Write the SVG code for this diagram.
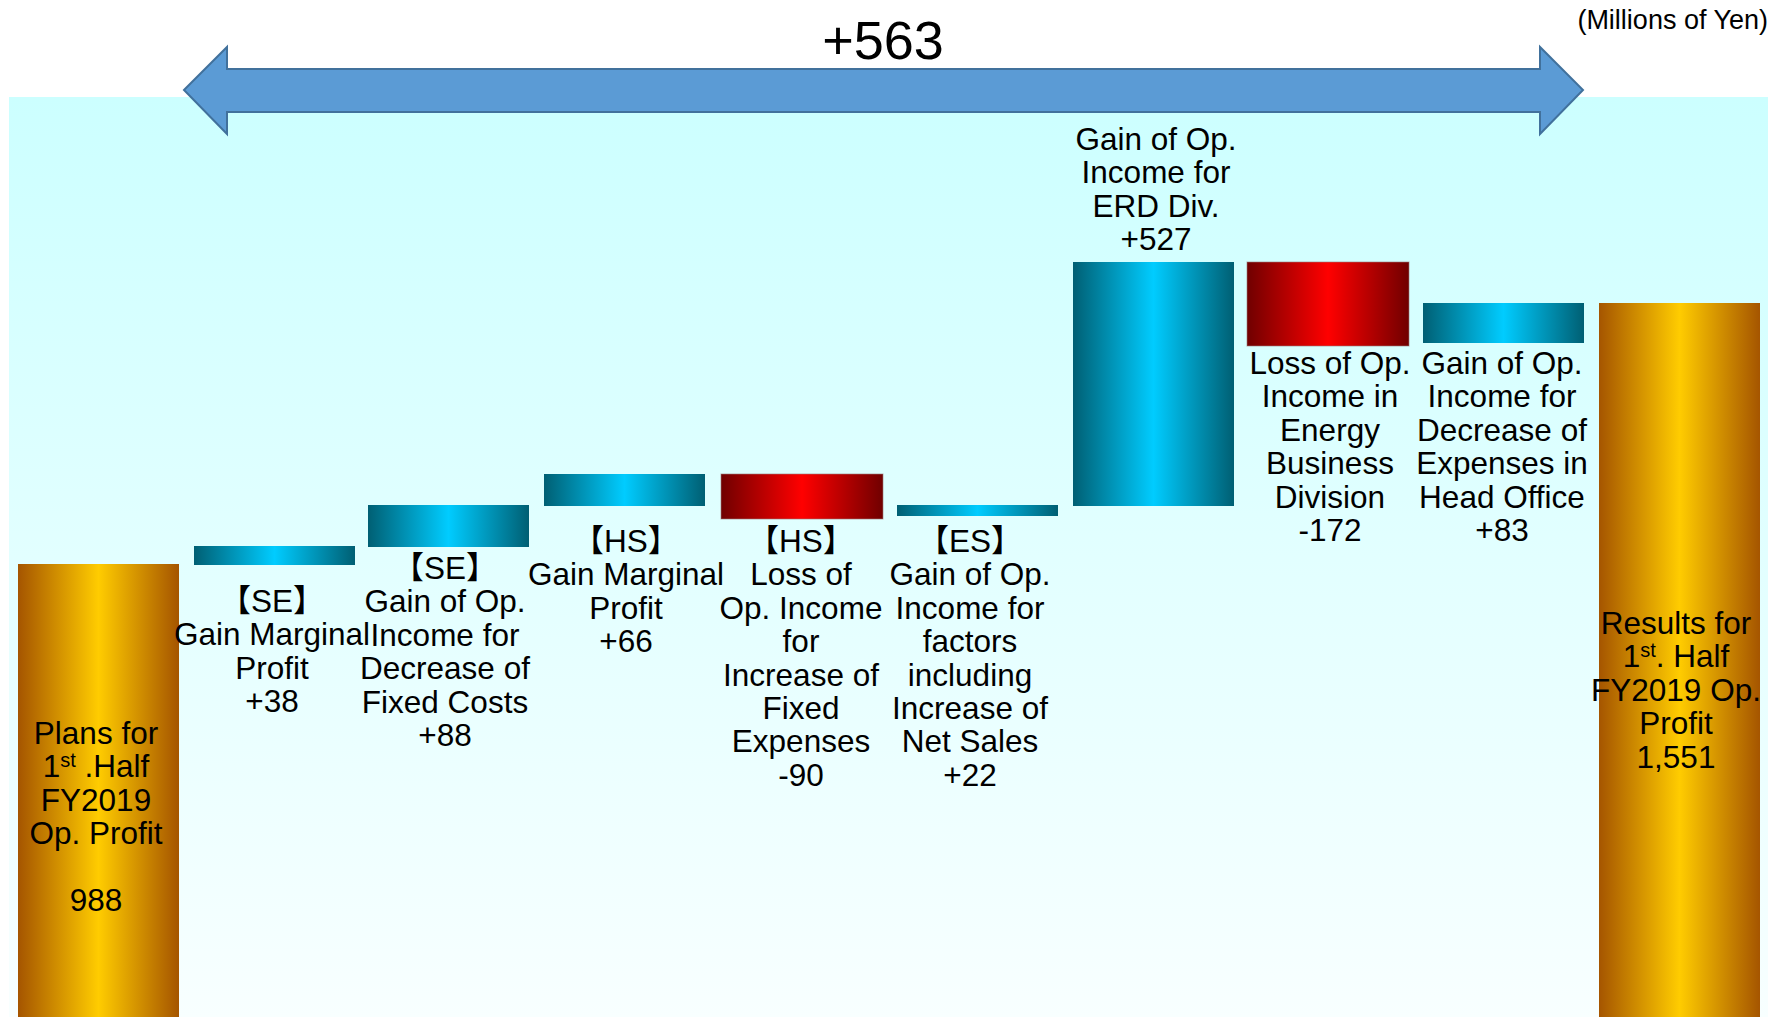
<svg xmlns="http://www.w3.org/2000/svg" width="1783" height="1017" viewBox="0 0 1783 1017">
<defs>
<linearGradient id="bg" x1="0" y1="0" x2="0" y2="1"><stop offset="0" stop-color="#ccffff"/><stop offset="1" stop-color="#f8ffff"/></linearGradient>
<linearGradient id="gold" x1="0" y1="0" x2="1" y2="0"><stop offset="0" stop-color="#a55500"/><stop offset="0.5" stop-color="#ffcc00"/><stop offset="1" stop-color="#a55500"/></linearGradient>
<linearGradient id="blue" x1="0" y1="0" x2="1" y2="0"><stop offset="0" stop-color="#005f73"/><stop offset="0.5" stop-color="#00ccff"/><stop offset="1" stop-color="#005f73"/></linearGradient>
<linearGradient id="red" x1="0" y1="0" x2="1" y2="0"><stop offset="0" stop-color="#700000"/><stop offset="0.5" stop-color="#ff0000"/><stop offset="1" stop-color="#700000"/></linearGradient>
</defs>
<style>
text{font-family:"Liberation Sans","Noto Sans CJK JP",sans-serif;fill:#000;text-anchor:middle}
.lbl{font-size:31.5px}
.sup{font-size:20px}
.red{stroke:#9a7a7a;stroke-opacity:0.6;stroke-width:1}
</style>
<rect x="9" y="97" width="1759" height="920" fill="url(#bg)"/>
<text x="1768" y="29" font-size="27" style="text-anchor:end">(Millions of Yen)</text>
<text x="883" y="59" font-size="54">+563</text>
<g id="connectors">
<path d="M184,90 L227,47 L227,69 L1540,69 L1540,47 L1583,90 L1540,134 L1540,112 L227,112 L227,134 Z" fill="#5b9bd5" stroke="#41719c" stroke-width="2" stroke-linejoin="miter"/>
</g>
<g id="plan">
<rect x="18" y="564" width="161" height="453" fill="url(#gold)"/>
<text class="lbl"><tspan x="96" y="744">Plans for</tspan><tspan x="96" y="777.4">1<tspan class="sup" dy="-10">st</tspan><tspan dy="10"> .Half</tspan></tspan><tspan x="96" y="810.8">FY2019</tspan><tspan x="96" y="844.2">Op. Profit</tspan><tspan x="96" y="911">988</tspan></text>
</g>
<g id="se-marginal">
<rect x="194" y="546" width="161" height="19" fill="url(#blue)"/>
<text class="lbl"><tspan x="272" y="612">【SE】</tspan><tspan x="272" dy="33.4">Gain Marginal</tspan><tspan x="272" dy="33.4">Profit</tspan><tspan x="272" dy="33.4">+38</tspan></text>
</g>
<g id="se-fixed">
<rect x="368" y="505" width="161" height="42" fill="url(#blue)"/>
<text class="lbl"><tspan x="445" y="579">【SE】</tspan><tspan x="445" dy="33.4">Gain of Op.</tspan><tspan x="445" dy="33.4">Income for</tspan><tspan x="445" dy="33.4">Decrease of</tspan><tspan x="445" dy="33.4">Fixed Costs</tspan><tspan x="445" dy="33.4">+88</tspan></text>
</g>
<g id="hs-marginal">
<rect x="544" y="474" width="161" height="32" fill="url(#blue)"/>
<text class="lbl"><tspan x="626" y="552">【HS】</tspan><tspan x="626" dy="33.4">Gain Marginal</tspan><tspan x="626" dy="33.4">Profit</tspan><tspan x="626" dy="33.4">+66</tspan></text>
</g>
<g id="hs-fixed">
<rect class="red" x="721" y="474" width="162" height="45" fill="url(#red)"/>
<text class="lbl"><tspan x="801" y="552">【HS】</tspan><tspan x="801" dy="33.4">Loss of</tspan><tspan x="801" dy="33.4">Op. Income</tspan><tspan x="801" dy="33.4">for</tspan><tspan x="801" dy="33.4">Increase of</tspan><tspan x="801" dy="33.4">Fixed</tspan><tspan x="801" dy="33.4">Expenses</tspan><tspan x="801" dy="33.4">-90</tspan></text>
</g>
<g id="es-sales">
<rect x="897" y="505" width="161" height="11" fill="url(#blue)"/>
<text class="lbl"><tspan x="970" y="552">【ES】</tspan><tspan x="970" dy="33.4">Gain of Op.</tspan><tspan x="970" dy="33.4">Income for</tspan><tspan x="970" dy="33.4">factors</tspan><tspan x="970" dy="33.4">including</tspan><tspan x="970" dy="33.4">Increase of</tspan><tspan x="970" dy="33.4">Net Sales</tspan><tspan x="970" dy="33.4">+22</tspan></text>
</g>
<g id="erd">
<rect x="1073" y="262" width="161" height="244" fill="url(#blue)"/>
<text class="lbl"><tspan x="1156" y="150">Gain of Op.</tspan><tspan x="1156" dy="33.4">Income for</tspan><tspan x="1156" dy="33.4">ERD Div.</tspan><tspan x="1156" dy="33.4">+527</tspan></text>
</g>
<g id="energy">
<rect class="red" x="1247" y="262" width="162" height="84" fill="url(#red)"/>
<text class="lbl"><tspan x="1330" y="374">Loss of Op.</tspan><tspan x="1330" dy="33.4">Income in</tspan><tspan x="1330" dy="33.4">Energy</tspan><tspan x="1330" dy="33.4">Business</tspan><tspan x="1330" dy="33.4">Division</tspan><tspan x="1330" dy="33.4">-172</tspan></text>
</g>
<g id="head-office">
<rect x="1423" y="303" width="161" height="40" fill="url(#blue)"/>
<text class="lbl"><tspan x="1502" y="374">Gain of Op.</tspan><tspan x="1502" dy="33.4">Income for</tspan><tspan x="1502" dy="33.4">Decrease of</tspan><tspan x="1502" dy="33.4">Expenses in</tspan><tspan x="1502" dy="33.4">Head Office</tspan><tspan x="1502" dy="33.4">+83</tspan></text>
</g>
<g id="results">
<rect x="1599" y="303" width="161" height="714" fill="url(#gold)"/>
<text class="lbl"><tspan x="1676" y="634">Results for</tspan><tspan x="1676" y="667.4">1<tspan class="sup" dy="-10">st</tspan><tspan dy="10">. Half</tspan></tspan><tspan x="1676" y="700.8">FY2019 Op.</tspan><tspan x="1676" y="734.2">Profit</tspan><tspan x="1676" y="767.6">1,551</tspan></text>
</g>
</svg>
